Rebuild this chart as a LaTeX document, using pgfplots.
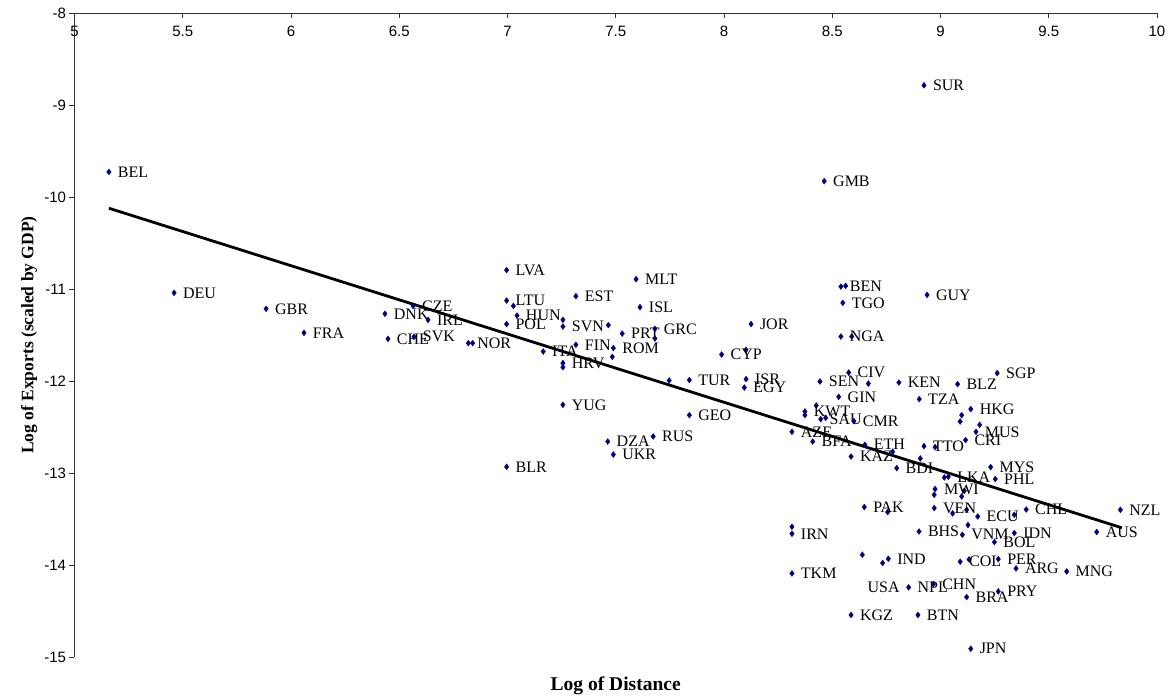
\documentclass[border=0pt]{standalone}
\usepackage{fontspec}
\setmainfont{Liberation Serif}
\newfontfamily\arialfont{Liberation Sans}
\usepackage{pgfplots}
\pgfplotsset{compat=1.18}
\definecolor{markblue}{RGB}{0,0,128}

\begin{document}
\begin{tikzpicture}
\begin{axis}[
  scale only axis, width=1082.5pt, height=643.7pt,
  xmin=5, xmax=10, ymin=-15, ymax=-8,
  xtick={5,5.5,6,6.5,7,7.5,8,8.5,9,9.5,10},
  ytick={-15,-14,-13,-12,-11,-10,-9,-8},
  axis x line*=top, axis y line*=left,
  xtick pos=right, xticklabel pos=right,
  ytick pos=left, yticklabel pos=left,
  xtick align=inside, ytick align=outside,
  major tick length=5pt,
  tick style={black!80, line width=0.9pt},
  axis line style={black!80, line width=0.9pt},
  /pgf/number format/assume math mode=true,
  tick label style={font=\arialfont\fontsize{15}{17}\selectfont},
  xticklabel style={anchor=north, yshift=-9pt},
  xlabel={Log of Distance},
  ylabel={Log of Exports (scaled by GDP)},
  xlabel style={at={(axis description cs:0.5,-0.026)}, anchor=north,
    font=\bfseries\fontsize{19.5}{22}\selectfont},
  ylabel style={at={(axis description cs:-0.042,0.5)}, anchor=center,
    font=\bfseries\fontsize{17.5}{20}\selectfont},
  clip=false,
  dots/.style={only marks, mark=diamond*, mark size=3pt,
    mark options={draw=markblue, fill=markblue, line width=0.3pt}},
]

% fitted line
\addplot[black, line width=2.8pt] coordinates {(5.159,-10.120) (9.838,-13.595)};

% points without a label
\addplot[dots] table {
x y
6.839 -11.587
7.027 -11.182
7.256 -11.334
7.466 -11.391
7.681 -11.537
7.484 -11.736
7.256 -11.848
8.102 -11.660
7.747 -11.993
8.562 -10.964
8.590 -11.515
8.667 -12.026
9.098 -12.370
9.091 -12.439
8.426 -12.265
8.374 -12.370
8.470 -12.399
9.181 -12.475
8.779 -12.768
8.975 -12.717
8.907 -12.841
9.018 -13.048
8.971 -13.236
9.110 -13.192
9.098 -13.254
8.756 -13.424
9.056 -13.439
9.121 -13.399
9.341 -13.453
9.127 -13.565
8.314 -13.584
8.639 -13.888
8.733 -13.978
9.132 -13.939
};

% labelled points
\addplot[dots, nodes near coords, point meta=explicit symbolic,
  nodes near coords align=horizontal,
  every node near coord/.append style={anchor=west, xshift=5.5pt, text=black,
    font=\fontsize{16}{18}\selectfont}]
  table[meta=lab] {
x y lab
5.159 -9.725 BEL
5.460 -11.040 DEU
5.885 -11.214 GBR
6.060 -11.475 FRA
6.434 -11.268 DNK
6.448 -11.540 CHE
6.564 -11.182 CZE
6.568 -11.518 SVK
6.633 -11.334 IRL
6.819 -11.587 NOR
6.996 -10.793 LVA
6.996 -11.124 LTU
7.044 -11.287 HUN
6.996 -11.380 POL
7.316 -11.076 EST
7.594 -10.891 MLT
7.612 -11.196 ISL
7.256 -11.407 SVN
7.530 -11.483 PRT
7.681 -11.432 GRC
8.125 -11.380 JOR
7.165 -11.678 ITA
7.316 -11.605 FIN
7.489 -11.641 ROM
7.256 -11.804 HRV
7.989 -11.711 CYP
7.840 -11.989 TUR
8.102 -11.978 ISR
8.094 -12.070 EGY
7.256 -12.258 YUG
7.840 -12.370 GEO
7.673 -12.602 RUS
7.463 -12.657 DZA
7.489 -12.798 UKR
6.996 -12.932 BLR
8.924 -8.783 SUR
8.463 -9.826 GMB
8.540 -10.972 BEN
8.549 -11.149 TGO
8.938 -11.062 GUY
8.540 -11.515 NGA
8.576 -11.907 CIV
8.443 -12.004 SEN
8.808 -12.015 KEN
9.079 -12.033 BLZ
9.262 -11.913 SGP
8.530 -12.171 GIN
8.902 -12.196 TZA
9.140 -12.304 HKG
8.374 -12.330 KWT
8.447 -12.413 SAU
8.600 -12.435 CMR
9.164 -12.551 MUS
9.116 -12.641 CRI
8.314 -12.551 AZE
8.410 -12.657 BFA
8.651 -12.692 ETH
8.924 -12.707 TTO
8.587 -12.820 KAZ
8.798 -12.946 BDI
9.036 -13.040 LKA
9.232 -12.935 MYS
9.253 -13.065 PHL
8.975 -13.174 MWI
8.648 -13.370 PAK
8.971 -13.380 VEN
9.172 -13.472 ECU
9.396 -13.396 CHL
9.831 -13.399 NZL
8.901 -13.635 BHS
9.101 -13.671 VNM
9.341 -13.652 IDN
9.722 -13.641 AUS
9.249 -13.750 BOL
8.314 -13.660 IRN
8.759 -13.932 IND
9.091 -13.964 COL
9.267 -13.935 PER
9.349 -14.037 ARG
9.583 -14.070 MNG
8.314 -14.091 TKM
8.853 -14.243 NPL
8.967 -14.207 CHN
9.121 -14.348 BRA
9.267 -14.287 PRY
8.587 -14.543 KGZ
8.896 -14.543 BTN
9.140 -14.910 JPN
};

\node[anchor=east, xshift=-5.5pt, font=\fontsize{16}{18}\selectfont]
  at (axis cs:8.853,-14.243) {USA};
\end{axis}
\path (-74.5pt,-43pt) rectangle (1094.5pt,657pt);
\end{tikzpicture}
\end{document}
